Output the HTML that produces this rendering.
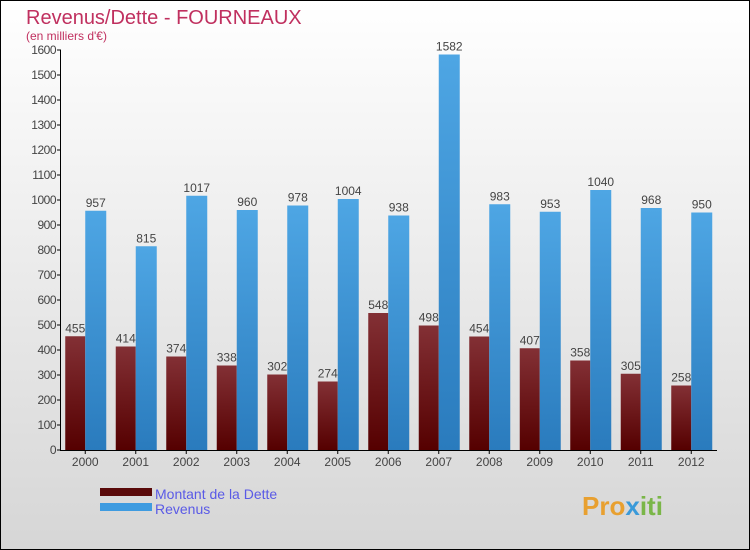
<!DOCTYPE html>
<html><head><meta charset="utf-8"><style>
body{margin:0}
svg{display:block;font-family:"Liberation Sans",sans-serif}
</style></head><body>
<svg id="c" width="750" height="550" xmlns="http://www.w3.org/2000/svg">
<defs>
<linearGradient id="bg" x1="0" y1="0" x2="0" y2="1"><stop offset="0" stop-color="#ffffff"/><stop offset="1" stop-color="#d6d6d6"/></linearGradient>
<linearGradient id="gd" x1="0" y1="0" x2="0" y2="1"><stop offset="0" stop-color="#833035"/><stop offset="1" stop-color="#550000"/></linearGradient>
<linearGradient id="gr" x1="0" y1="0" x2="0" y2="1"><stop offset="0" stop-color="#4ea6e4"/><stop offset="1" stop-color="#2a7bbd"/></linearGradient>
</defs>
<rect x="0.5" y="0.5" width="749" height="549" fill="url(#bg)" stroke="#000"/>
<text x="26" y="24" font-size="20" fill="#c0305f">Revenus/Dette - FOURNEAUX</text>
<text x="26" y="40" font-size="12" fill="#c0305f">(en milliers d'€)</text>
<g id="grid"></g>
<g id="bars"></g>
<g id="axes"></g>
<g>
<rect x="100" y="488" width="52" height="8" fill="#5a0a0a"/>
<text x="155" y="499" font-size="14" fill="#5a5ae6">Montant de la Dette</text>
<rect x="100" y="503" width="52" height="8" fill="#3e9be0"/>
<text x="155" y="514" font-size="14" fill="#5a5ae6">Revenus</text>
</g>
<text x="582" y="515" font-size="26" font-weight="bold" fill="#e8a030">Pro<tspan fill="#3a9ad9">x</tspan><tspan fill="#7ab648">iti</tspan></text>
</svg>
<script>
const categories=["2000","2001","2002","2003","2004","2005","2006","2007","2008","2009","2010","2011","2012"];
const dette=[455,414,374,338,302,274,548,498,454,407,358,305,258];
const revenus=[957,815,1017,960,978,1004,938,1582,983,953,1040,968,950];
const yTicks=[0,100,200,300,400,500,600,700,800,900,1000,1100,1200,1300,1400,1500,1600];
const NS="http://www.w3.org/2000/svg";
const x0=60,band=50.5,yBase=450,yTop=50,yMax=1600;
const y=v=>yBase-(v/yMax)*(yBase-yTop);
const cx=i=>x0+band*(i+0.5);
function mk(tag,attrs,parent,txt){const e=document.createElementNS(NS,tag);for(const k in attrs)e.setAttribute(k,attrs[k]);if(txt!==undefined)e.textContent=txt;parent.appendChild(e);return e;}
const bars=document.getElementById('bars'),axes=document.getElementById('axes');
categories.forEach((c,i)=>{
  const d=mk('rect',{x:cx(i)-20,y:y(dette[i]),width:20,height:yBase-y(dette[i]),fill:'url(#gd)'},bars);
  
  
  const r=mk('rect',{x:cx(i),y:y(revenus[i]),width:21,height:yBase-y(revenus[i]),fill:'url(#gr)'},bars);
  
  
  const t1=mk('text',{x:cx(i)-10,y:y(dette[i])-4,'font-size':12,fill:'#444','text-anchor':'middle'},bars,dette[i]);
  
  
  const t2=mk('text',{x:cx(i)+10.5,y:y(revenus[i])-4,'font-size':12,fill:'#444','text-anchor':'middle'},bars,revenus[i]);
  
  
  const xl=mk('text',{x:cx(i),y:466,'font-size':12,fill:'#444','text-anchor':'middle'},axes,c);
  
  
  mk('line',{x1:cx(i),x2:cx(i),y1:450,y2:454,stroke:'#000'},axes);
});
yTicks.forEach(v=>{
  mk('line',{x1:57,x2:61,y1:y(v),y2:y(v),stroke:'#000'},axes);
  const t=mk('text',{x:56,y:y(v)+4,'font-size':12,fill:'#444','text-anchor':'end','letter-spacing':'-0.5'},axes,v);
  
  
});
const ya=mk('line',{x1:60.5,x2:60.5,y1:50,y2:450.5,stroke:'#000'},axes);


const xa=mk('line',{x1:60,x2:717,y1:450.5,y2:450.5,stroke:'#000'},axes);


</script>
</body></html>
